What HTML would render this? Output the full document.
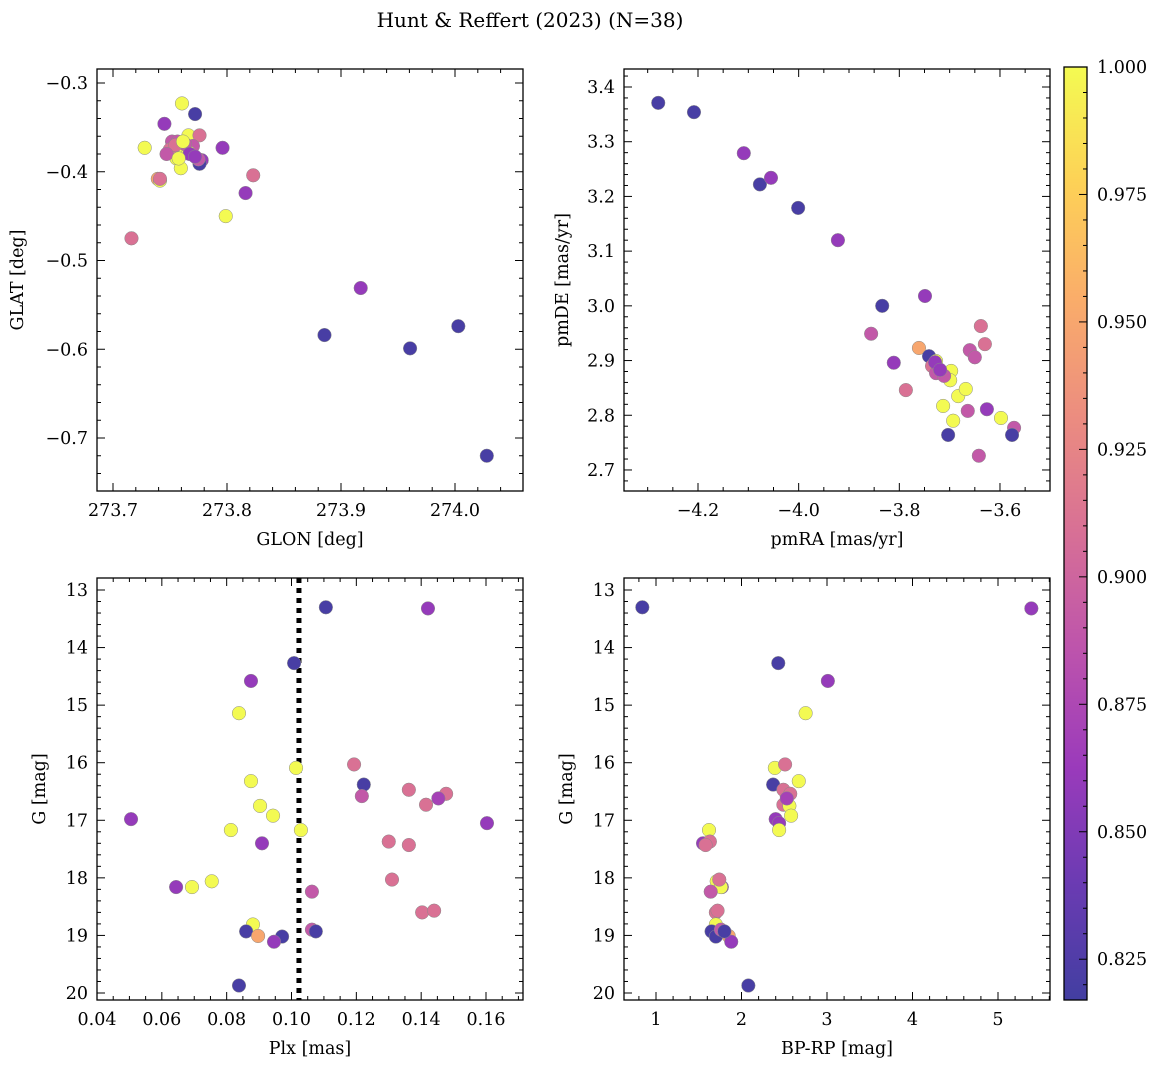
<!DOCTYPE html>
<html><head><meta charset="utf-8">
<style>
html,body{margin:0;padding:0;background:#fff;}
svg{display:block;font-family:"DejaVu Serif","Liberation Serif",serif;}
</style></head>
<body>
<svg id="fig" width="1161" height="1068" viewBox="0 0 1161 1068" xmlns="http://www.w3.org/2000/svg">
<text x="530" y="27" font-size="20" text-anchor="middle">Hunt &amp; Reffert (2023) (N=38)</text>
</svg>
<script>
// ---- data ----
const glon = [273.7605,273.7720,273.7451,273.7278,273.7518,273.7566,273.7662,273.7759,273.7585,273.7701,273.7480,273.7557,273.7662,273.7778,273.7759,273.7595,273.7961,273.7393,273.7412,273.8163,273.8230,273.7989,273.7162,273.9173,273.8855,274.0029,273.9606,274.0279,273.7499,273.7633,273.7672,273.7547,273.7749,273.7470,273.7614,273.7720,273.7412,273.7576];
const glat = [-0.323,-0.335,-0.346,-0.373,-0.366,-0.366,-0.359,-0.359,-0.372,-0.371,-0.379,-0.385,-0.378,-0.387,-0.391,-0.396,-0.373,-0.408,-0.410,-0.424,-0.404,-0.450,-0.475,-0.531,-0.584,-0.574,-0.599,-0.720,-0.375,-0.369,-0.380,-0.370,-0.386,-0.380,-0.366,-0.383,-0.408,-0.385];
const probPos = [1,0.82,0.86,1,0.89,0.89,1,0.91,1,0.89,0.89,1,1,0.86,0.82,1,0.86,0.95,1,0.86,0.91,1,0.91,0.86,0.82,0.82,0.82,0.82,0.91,0.89,0.86,0.91,0.89,0.89,1,0.86,0.91,1];
const pmra = [-4.279,-4.208,-4.109,-4.077,-4.055,-4.001,-3.922,-3.834,-3.749,-3.856,-3.811,-3.787,-3.761,-3.741,-3.727,-3.735,-3.727,-3.705,-3.697,-3.699,-3.711,-3.713,-3.683,-3.693,-3.668,-3.703,-3.638,-3.630,-3.660,-3.650,-3.664,-3.598,-3.626,-3.572,-3.576,-3.642,-3.729,-3.719];
const pmde = [3.371,3.354,3.279,3.222,3.234,3.179,3.120,3.000,3.018,2.949,2.896,2.846,2.923,2.908,2.899,2.890,2.877,2.872,2.881,2.864,2.872,2.817,2.835,2.790,2.848,2.764,2.963,2.930,2.919,2.906,2.808,2.795,2.811,2.777,2.764,2.726,2.897,2.883];
const probPm = [0.82,0.82,0.86,0.82,0.86,0.82,0.86,0.82,0.86,0.89,0.86,0.91,0.95,0.82,1,0.91,0.89,0.91,1,1,0.89,1,1,1,1,0.82,0.91,0.91,0.89,0.89,0.89,1,0.86,0.89,0.82,0.89,0.86,0.86];
const plx  = [0.1106,0.1421,0.1008,0.0875,0.0838,0.1014,0.1193,0.1223,0.1217,0.0875,0.1362,0.1477,0.1415,0.0903,0.0943,0.0505,0.1603,0.0813,0.1029,0.0909,0.1300,0.1362,0.0754,0.0644,0.0693,0.1310,0.1063,0.1403,0.1440,0.0881,0.0860,0.0897,0.0971,0.0946,0.1063,0.1075,0.0838,0.1453];
const gmag = [13.30,13.32,14.27,14.58,15.14,16.09,16.03,16.38,16.58,16.32,16.47,16.54,16.73,16.75,16.92,16.98,17.05,17.17,17.17,17.40,17.37,17.43,18.06,18.16,18.16,18.03,18.24,18.60,18.57,18.81,18.93,19.01,19.02,19.11,18.90,18.93,19.87,16.62];
const bprp = [0.84,5.39,2.43,3.01,2.75,2.39,2.51,2.37,2.53,2.67,2.49,2.57,2.49,2.56,2.58,2.40,2.44,1.62,2.44,1.55,1.63,1.58,1.71,1.77,1.76,1.74,1.64,1.70,1.72,1.70,1.65,1.85,1.70,1.88,1.76,1.80,2.08,2.53];
const prob = [0.82,0.86,0.82,0.86,1,1,0.91,0.82,0.89,1,0.91,0.91,0.91,1,1,0.86,0.86,1,1,0.86,0.91,0.91,1,0.86,1,0.91,0.89,0.91,0.91,1,0.82,0.95,0.82,0.86,0.89,0.82,0.82,0.87];
const plxLine = 0.1023;
const cbMin = 0.817, cbMax = 1.0;
const cbTicks = [0.825,0.850,0.875,0.900,0.925,0.950,0.975,1.000];

// ---- helpers ----
const NS = "http://www.w3.org/2000/svg";
const svg = document.getElementById('fig');
const TFS = 17.5, LFS = 17.5;
function mk(tag, attrs, parent){const e=document.createElementNS(NS,tag);for(const k in attrs)e.setAttribute(k,attrs[k]);(parent||svg).appendChild(e);return e;}
const stops=[[0,[13,8,135]],[0.125,[65,4,157]],[0.25,[126,3,168]],[0.375,[170,35,149]],[0.5,[204,71,120]],[0.625,[230,108,92]],[0.75,[248,149,64]],[0.875,[253,196,39]],[1,[240,249,33]]];
function plasma(t, a){t=Math.max(0,Math.min(1,t));let i=0;while(i<stops.length-2&&t>stops[i+1][0])i++;const [t0,c0]=stops[i],[t1,c1]=stops[i+1];const f=(t-t0)/(t1-t0);const c=c0.map((v,k)=>v+(c1[k]-v)*f);const al=a==null?0.78:a;return 'rgb('+c.map(v=>Math.round(v*al+255*(1-al))).join(',')+')';}
function pcol(p){return plasma((p-cbMin)/(cbMax-cbMin));}
const f1=v=>(v<0?'\u2212':'')+Math.abs(v).toFixed(1);
const f2=v=>v.toFixed(2);
const f0=v=>String(Math.round(v));

function scatter(P,xs,ys,ps,nm){
  xs.forEach((_,i)=>{
    const c=mk('circle',{cx:P.sx(xs[i]),cy:P.sy(ys[i]),r:6.8,fill:pcol(ps[i]),stroke:'#8a8a8a','stroke-width':0.5},P.g);
    
    
  });
}

function panel2(o){
  const [name,L,T,R,Bt]=o.box;
  const g=mk('g',{});
  const sx=v=>o.ax[1]+(v-o.ax[0])*o.ax[2];
  const sy=v=>o.ay[1]+(v-o.ay[0])*o.ay[2];
  const tk=mk('g',{stroke:'#000','stroke-width':1},g);
  
  const xs=o.xt[1]-o.xt[0], ys=o.yt[1]-o.yt[0];
  for(let k=-40;k<=200;k++){const v=o.xt[0]+k*xs/o.xmin;const p=sx(v);if(p<L+0.5||p>R-0.5)continue;const maj=((k%o.xmin)+o.xmin)%o.xmin===0;const len=maj?8:4;
    mk('line',{x1:p,x2:p,y1:Bt,y2:Bt-len},tk);mk('line',{x1:p,x2:p,y1:T,y2:T+len},tk);}
  for(let k=-40;k<=200;k++){const v=o.yt[0]+k*ys/o.ymin;const p=sy(v);if(p<T+0.5||p>Bt-0.5)continue;const maj=((k%o.ymin)+o.ymin)%o.ymin===0;const len=maj?8:4;
    mk('line',{y1:p,y2:p,x1:L,x2:L+len},tk);mk('line',{y1:p,y2:p,x1:R,x2:R-len},tk);}
  o.xt.forEach(v=>{const t=mk('text',{x:sx(v),y:Bt+25,'font-size':TFS,'text-anchor':'middle'},g);t.textContent=o.fx(v);
    });
  o.yt.forEach(v=>{const t=mk('text',{x:L-9,y:sy(v)+6,'font-size':TFS,'text-anchor':'end'},g);t.textContent=o.fy(v);
    });
  const xl=mk('text',{x:(L+R)/2,y:Bt+54,'font-size':LFS,'text-anchor':'middle'},g);xl.textContent=o.xlab;
  
  const yx=L-o.yoff,yc=(T+Bt)/2;
  const yl=mk('text',{x:yx,y:yc,'font-size':LFS,'text-anchor':'middle',transform:`rotate(-90 ${yx} ${yc})`},g);yl.textContent=o.ylab;
  
  const P={g,sx,sy};
  if(o.extra)o.extra(P);
  scatter(P,o.dx,o.dy,o.dp,o.pname);
  const fr=mk('rect',{x:L,y:T,width:R-L,height:Bt-T,fill:'none',stroke:'#000','stroke-width':1.3},g);
  
}

panel2({box:['position-panel',97,69,523,491],ax:[273.7,113,1140],ay:[-0.3,83,-887.5],xt:[273.7,273.8,273.9,274.0],yt:[-0.3,-0.4,-0.5,-0.6,-0.7],xmin:5,ymin:5,
  fx:v=>v.toFixed(1),fy:f1,xlab:'GLON [deg]',ylab:'GLAT [deg]',yoff:74,dx:glon,dy:glat,dp:probPos,pname:'position-point'});
panel2({box:['proper-motion-panel',624,69,1050,491],ax:[-4.2,698,503.3],ay:[3.4,87,-547.1],xt:[-4.2,-4.0,-3.8,-3.6],yt:[3.4,3.3,3.2,3.1,3.0,2.9,2.8,2.7],xmin:4,ymin:5,
  fx:f1,fy:v=>v.toFixed(1),xlab:'pmRA [mas/yr]',ylab:'pmDE [mas/yr]',yoff:56,dx:pmra,dy:pmde,dp:probPm,pname:'proper-motion-point'});
panel2({box:['parallax-panel',97,578,523,1000],ax:[0.04,97,3241.7],ay:[13,590,57.57],xt:[0.04,0.06,0.08,0.10,0.12,0.14,0.16],yt:[13,14,15,16,17,18,19,20],xmin:4,ymin:5,
  fx:f2,fy:f0,xlab:'Plx [mas]',ylab:'G [mag]',yoff:52,dx:plx,dy:gmag,dp:prob,pname:'parallax-point',
  extra:P=>{const l=mk('line',{x1:P.sx(plxLine),x2:P.sx(plxLine),y1:578,y2:1000,stroke:'#000','stroke-width':5,'stroke-dasharray':'5 5'},P.g);
    }});
panel2({box:['cmd-panel',624,578,1050,1000],ax:[1,656,85.5],ay:[13,590,57.57],xt:[1,2,3,4,5],yt:[13,14,15,16,17,18,19,20],xmin:5,ymin:5,
  fx:f0,fy:f0,xlab:'BP-RP [mag]',ylab:'G [mag]',yoff:52,dx:bprp,dy:gmag,dp:prob,pname:'cmd-point'});

// colorbar
(function(){
  const cb=mk('g',{});
  const cL=1064,cR=1087,cT=67,cB=1000;
  const cy=v=>cB-(v-cbMin)/(cbMax-cbMin)*(cB-cT);
  for(let y=cT;y<cB;y++){mk('rect',{x:cL,y:y,width:cR-cL,height:1.2,fill:plasma((cB-y-0.5)/(cB-cT))},cb);}
  const tg=mk('g',{stroke:'#000','stroke-width':1},cb);
  for(let k=-1;k<=40;k++){const v=0.825+k*0.005;const p=cy(v);if(p<cT+0.5||p>cB-0.5)continue;const maj=((k%5)+5)%5===0;mk('line',{x1:cR,x2:cR-(maj?8:4),y1:p,y2:p},tg);}
  cbTicks.forEach(v=>{const t=mk('text',{x:cR+10,y:cy(v)+6,'font-size':TFS},cb);t.textContent=v.toFixed(3);
    });
  mk('rect',{x:cL,y:cT,width:cR-cL,height:cB-cT,fill:'none',stroke:'#000','stroke-width':1.3},cb);
})();
</script>
</body></html>
